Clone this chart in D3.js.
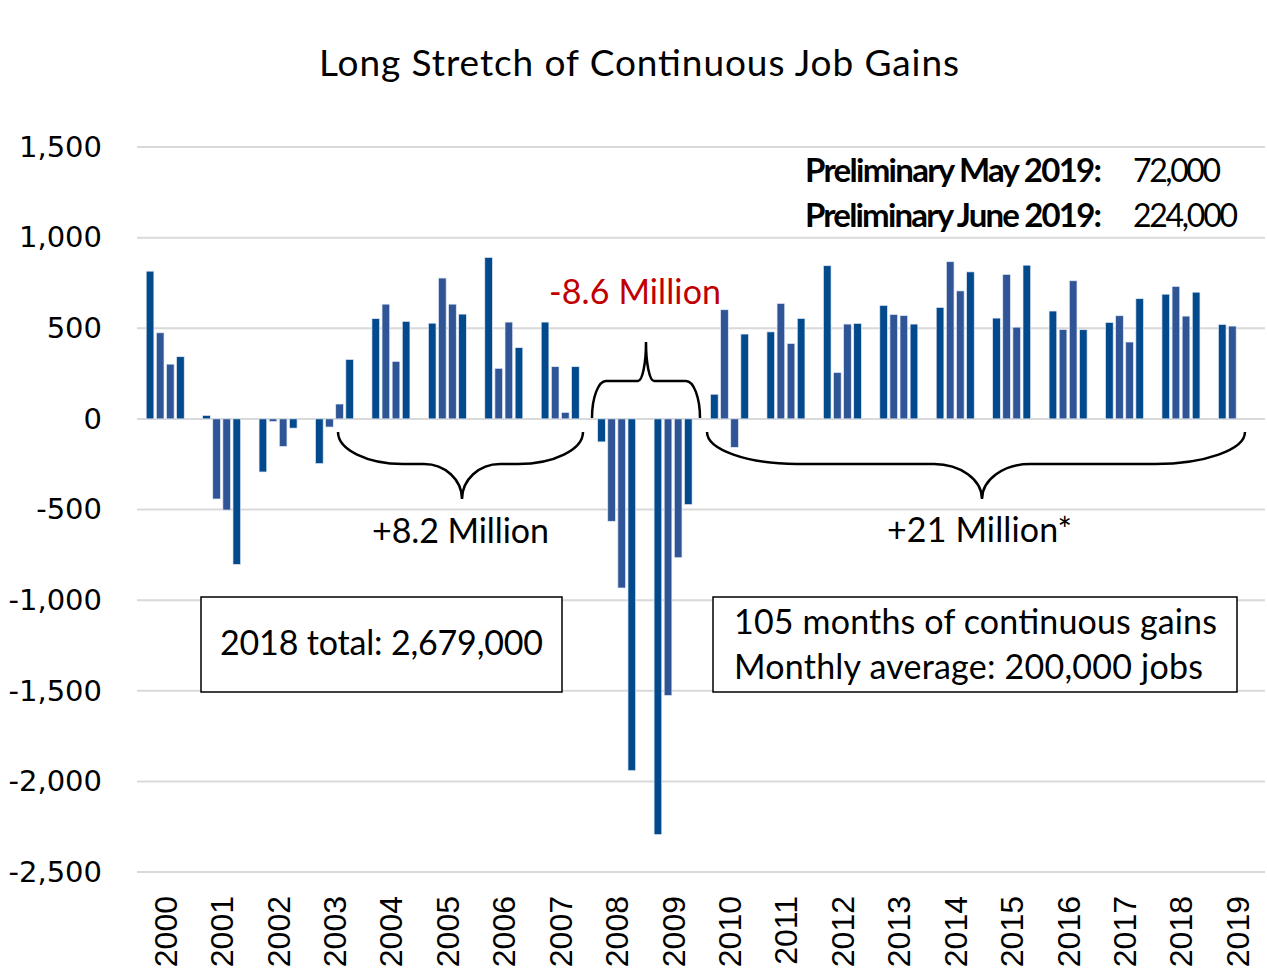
<!DOCTYPE html>
<html>
<head>
<meta charset="utf-8">
<script src="https://cdn.jsdelivr.net/npm/d3@7"></script>
<style>
  html, body { margin: 0; padding: 0; background: #fff; }
  svg { display: block; }
</style>
</head>
<body>
<svg id="chart" width="1267" height="974"></svg>
<script>
'use strict';

// job gains by quarter, thousands
const years = ['2000', '2001', '2002', '2003', '2004', '2005', '2006', '2007', '2008', '2009',
    '2010', '2011', '2012', '2013', '2014', '2015', '2016', '2017', '2018', '2019'];
const q1 = [815, 19, -293, -247, 553, 528, 891, 534, -127, -2294, 136, 480, 845, 626, 615, 556, 595, 532, 688, 521];
const q2 = [475, -442, -15, -45, 633, 777, 279, 288, -565, -1526, 602, 637, 256, 576, 867, 797, 493, 569, 731, 512];
const q3 = [302, -503, -152, 82, 317, 633, 534, 36, -933, -766, -157, 416, 523, 570, 706, 506, 762, 424, 567, null];
const q4 = [343, -803, -51, 328, 538, 578, 393, 288, -1941, -473, 468, 554, 527, 523, 811, 848, 492, 663, 699, null];
const yTicks = [1500, 1000, 500, 0, -500, -1000, -1500, -2000, -2500];

const quarters = [q1, q2, q3, q4];
const COLORS = ['#034a8d', '#2f5597', '#2f5597', '#034a8d'];
const CALIBRI = 'Lato, "Open Sans", sans-serif';

const svg = d3.select('#chart');

const x0 = d3.scaleBand().domain(years).range([137, 1265.6]).padding(0);
const x1 = d3.scaleBand().domain(d3.range(4)).range([0, x0.bandwidth()])
    .paddingInner(0.24).paddingOuter(0.91);
const y = d3.scaleLinear().domain([-2500, 1500]).range([872, 147]);

// gridlines
svg.append('g')
    .selectAll('line')
    .data(yTicks)
    .join('line')
    .attr('x1', 137)
    .attr('x2', 1265)
    .attr('y1', (d) => y(d))
    .attr('y2', (d) => y(d))
    .attr('stroke', '#d9d9d9')
    .attr('stroke-width', 2);

// y axis labels, plain hyphen for negatives like the original
const fmt = d3.format(',');
const yAxis = svg.append('g')
    .attr('transform', 'translate(102,0)')
    .call(d3.axisLeft(y).tickValues(yTicks).tickSize(0).tickPadding(0)
        .tickFormat((d) => fmt(d).replace('\u2212', '-')));
yAxis.select('.domain').remove();
yAxis.selectAll('text')
    .attr('font-family', '"DejaVu Sans", Verdana, sans-serif')
    .attr('font-size', 29)
    .attr('fill', '#000');

// x axis labels (rotated)
const xAxis = svg.append('g')
    .attr('transform', 'translate(0,896)')
    .call(d3.axisBottom(x0).tickSize(0).tickPadding(0));
xAxis.select('.domain').remove();
xAxis.selectAll('text')
    .attr('font-family', '"Liberation Sans", Arial, sans-serif')
    .attr('font-size', 32)
    .attr('fill', '#000')
    .attr('text-anchor', 'end')
    .attr('transform', 'rotate(-90)')
    .attr('x', 0)
    .attr('y', 0)
    .attr('dy', '0.36em');

// bars
const bars = [];
years.forEach((yr, i) => {
    quarters.forEach((series, q) => {
        if (series[i] !== null) {
            bars.push({ year: yr, q: q, value: series[i] });
        }
    });
});

svg.append('g')
    .selectAll('rect')
    .data(bars)
    .join('rect')
    .attr('x', (d) => x0(d.year) + x1(d.q))
    .attr('width', x1.bandwidth())
    .attr('y', (d) => y(Math.max(0, d.value)))
    .attr('height', (d) => Math.abs(y(d.value) - y(0)))
    .attr('fill', (d) => COLORS[d.q])
    .attr('stroke', '#e3eaf5')
    .attr('stroke-width', 0.7);

// braces
function brace(x1, x2, y0, yh, yc, xc, a, b) {
    let p = d3.path();
    p.moveTo(x1, y0);
    p.bezierCurveTo(x1, y0 + (yh - y0) * 0.55, x1 + a * 0.45, yh, x1 + a, yh);
    p.lineTo(xc - b, yh);
    p.bezierCurveTo(xc - b * 0.45, yh, xc, yh + (yc - yh) * 0.45, xc, yc);
    p.bezierCurveTo(xc, yh + (yc - yh) * 0.45, xc + b * 0.45, yh, xc + b, yh);
    p.lineTo(x2 - a, yh);
    p.bezierCurveTo(x2 - a * 0.45, yh, x2, y0 + (yh - y0) * 0.55, x2, y0);
    return p.toString();
}

const braceData = [
    [338, 583, 432, 464, 499, 462, 65, 38],
    [592, 700, 418, 381, 342, 646, 14, 8],
    [707, 1245, 432, 464, 499, 982, 90, 48]
];

svg.append('g')
    .selectAll('path')
    .data(braceData)
    .join('path')
    .attr('d', (d) => brace(...d))
    .attr('fill', 'none')
    .attr('stroke', '#000')
    .attr('stroke-width', 2.5);

// text helper
function label(x, yPos, txt, opts) {
    opts = opts || {};
    let t = svg.append('text')
        .attr('x', x)
        .attr('y', yPos)
        .attr('font-family', CALIBRI)
        .attr('font-size', opts.size || 34)
        .attr('font-weight', opts.weight || 'normal')
        .attr('fill', opts.color || '#000')
        .attr('text-anchor', opts.anchor || 'start')
        .text(txt);
    if (opts.width) {
        t.attr('textLength', opts.width).attr('lengthAdjust', 'spacing');
    }
    return t;
}

// title
label(639, 76, 'Long Stretch of Continuous Job Gains', { size: 37, anchor: 'middle', width: 640 });

// brace labels
label(549, 304, '-8.6 Million', { color: '#c00000', width: 172 });
label(372, 543, '+8.2 Million', { width: 177 });
label(887, 542, '+21 Million*', { width: 185 });

// preliminary figures
label(805, 182, 'Preliminary May 2019:', { weight: 'bold', size: 33, width: 297 });
label(1133, 182, '72,000', { size: 32, width: 88 });
label(805, 227, 'Preliminary June 2019:', { weight: 'bold', size: 33, width: 297 });
label(1133, 227, '224,000', { size: 32, width: 105 });

// boxes
svg.append('rect')
    .attr('x', 201).attr('y', 597).attr('width', 361).attr('height', 95)
    .attr('fill', '#fff').attr('stroke', '#000').attr('stroke-width', 1.5);
label(220, 655, '2018 total: 2,679,000', { width: 323 });

svg.append('rect')
    .attr('x', 713).attr('y', 597).attr('width', 524).attr('height', 95)
    .attr('fill', '#fff').attr('stroke', '#000').attr('stroke-width', 1.5);
label(734, 634, '105 months of continuous gains', { width: 483 });
label(734, 679, 'Monthly average: 200,000 jobs', { width: 469 });
</script>
</body>
</html>
